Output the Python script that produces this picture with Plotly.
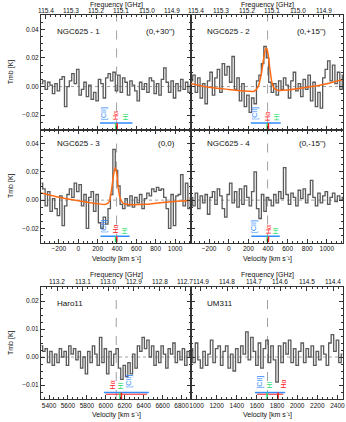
import numpy as np
import plotly.graph_objects as go

C_KMS = 299792.458

# ---------------- velocity channel grids (km/s) ----------------
v_ngc = np.arange(-380, 1171, 25)
v_horo = np.arange(5320, 6896, 25)
v_um = np.arange(950, 2451, 25)

# ---------------- spectra, Tmb [K] ----------------
t_ngc1 = [0.002, 0.004, -0.002, 0.003, 0.001, -0.005, 0.002, -0.003, 0.005, 0.007,
          -0.014, 0.000, 0.004, 0.009, 0.002, 0.012, -0.006, -0.002, 0.003, -0.007,
          0.001, -0.009, -0.004, -0.010, 0.005, 0.002, -0.008, 0.006, 0.009, 0.004,
          0.010, -0.003, 0.008, -0.004, 0.006, 0.003, -0.006, 0.004, 0.001, -0.003,
          -0.010, 0.003, -0.002, 0.002, -0.004, 0.006, 0.004, -0.005, 0.002, -0.006,
          0.005, 0.013, 0.003, -0.004, 0.004, -0.008, 0.002, -0.003, 0.005, -0.002,
          0.003, -0.004, 0.001]
t_ngc2 = [0.004, 0.008, -0.004, 0.006, -0.008, 0.002, -0.012, 0.004, 0.010, -0.006,
          0.006, 0.012, -0.004, 0.016, 0.008, 0.014, 0.003, 0.021, -0.002, 0.006,
          -0.010, 0.002, -0.014, -0.006, -0.018, -0.008, -0.012, 0.004, 0.008, 0.016,
          0.028, 0.020, 0.003, -0.004, 0.002, -0.006, 0.004, -0.002, 0.006, 0.001,
          -0.008, 0.004, 0.010, -0.003, 0.002, -0.007, 0.005, -0.002, 0.008, -0.010,
          0.003, -0.014, -0.004, -0.015, 0.006, 0.012, 0.018, 0.004, 0.015, 0.002,
          0.010, -0.002, 0.008]
t_ngc3 = [0.012, 0.008, -0.004, 0.006, -0.008, 0.001, -0.006, -0.011, 0.003, -0.018,
          -0.004, 0.004, 0.008, 0.002, 0.012, 0.006, 0.011, -0.004, 0.004, -0.020,
          0.002, 0.006, -0.008, 0.004, -0.016, -0.020, -0.012, -0.017, -0.006, 0.004,
          0.036, 0.021, 0.010, -0.003, -0.006, 0.001, -0.004, 0.003, -0.005, 0.002,
          -0.002, 0.004, -0.006, 0.001, 0.005, 0.003, 0.008, 0.006, 0.009, 0.007,
          0.008, 0.002, -0.006, -0.020, 0.004, -0.018, 0.003, 0.004, 0.018, -0.004,
          0.012, -0.006, 0.002]
t_ngc4 = [0.002, -0.004, 0.005, -0.006, 0.003, -0.002, 0.004, -0.010, 0.002, 0.006,
          -0.003, 0.008, 0.003, -0.006, -0.012, 0.004, 0.012, -0.002, 0.006, -0.005,
          0.008, -0.003, 0.010, 0.002, -0.004, 0.006, 0.020, -0.006, -0.013, 0.004,
          -0.008, 0.002, 0.000, -0.004, 0.004, -0.002, 0.006, 0.001, 0.023, 0.004,
          -0.003, 0.005, 0.002, -0.004, 0.007, 0.001, 0.008, -0.002, 0.004, 0.014,
          0.002, -0.004, 0.005, -0.002, 0.003, 0.006, -0.003, 0.002, 0.005, -0.001,
          0.003, 0.000, 0.002]
t_horo = [0.004, 0.002, 0.003, -0.002, 0.002, -0.003, 0.001, -0.002, 0.003, 0.000,
          0.002, -0.003, 0.004, 0.001, 0.003, -0.001, 0.002, -0.004, 0.000, -0.006,
          0.002, -0.002, 0.004, 0.001, -0.003, 0.007, -0.002, 0.003, -0.006, 0.002,
          -0.003, 0.001, 0.003, -0.004, -0.008, -0.003, -0.007, -0.002, -0.006, 0.001,
          -0.004, 0.004, 0.002, 0.007, 0.003, 0.006, 0.000, 0.004, -0.003, 0.002,
          -0.002, 0.004, 0.001, -0.004, 0.003, 0.001, 0.005, -0.002, 0.002, -0.001,
          0.003, -0.003, 0.002, 0.000]
t_um = [0.003, -0.002, 0.005, -0.001, -0.004, 0.002, -0.003, 0.001, 0.006, -0.002,
        0.003, 0.004, -0.003, 0.002, 0.004, -0.004, 0.001, -0.005, 0.003, -0.002,
        0.004, 0.001, 0.009, -0.001, 0.007, 0.002, -0.003, 0.005, -0.004, 0.003,
        0.006, -0.002, 0.004, -0.001, -0.009, 0.004, -0.002, 0.005, 0.001, 0.006,
        -0.002, 0.003, -0.003, 0.002, 0.005, -0.002, 0.003, 0.000, 0.004, -0.003,
        0.002, -0.001, 0.004, 0.001, -0.003, 0.005, 0.008, 0.002, 0.006, -0.002,
        0.001]

# ---------------- Gaussian + baseline fits ----------------
fit2_v = [-385, -200, 0, 100, 200, 260, 300, 330, 350, 370, 385, 400, 420, 440, 460, 500, 600, 800, 1000, 1165]
fit2_t = [0.002, -0.0005, -0.002, -0.0027, -0.0032, -0.0033, 0.0, 0.008, 0.017, 0.025, 0.027, 0.023, 0.012,
          0.003, -0.001, -0.0026, -0.0024, -0.0005, 0.002, 0.005]
fit3_v = [-385, -200, 0, 100, 200, 280, 320, 345, 365, 380, 395, 410, 430, 460, 500, 700, 900, 1165]
fit3_t = [0.005, 0.002, -0.0005, -0.0015, -0.0025, -0.003, -0.001, 0.008, 0.018, 0.023, 0.020, 0.010,
          0.002, -0.002, -0.003, -0.003, -0.0015, 0.0]

# ---------------- panel descriptors ----------------
panel_names = ["NGC625 - 1", "NGC625 - 2", "NGC625 - 3", "NGC625 - 4", "Haro11", "UM311"]
panel_offsets = ["(0,+30'')", "(0,+15'')", "(0,0)", "(0,-15'')", "", ""]
vsys = [396, 396, 396, 396, 6110, 1705]
x_ranges = [[-385, 1165]] * 4 + [[5315, 6900], [945, 2455]]
rest_freq = [115.271, 115.271, 115.271, 115.271, 115.271, 115.30]
freq_ngc = [115.4, 115.3, 115.2, 115.1, 115.0, 114.9]
freq_horo = [113.2, 113.1, 113.0, 112.9, 112.8, 112.7]
freq_um = [114.9, 114.8, 114.7, 114.6, 114.5, 114.4]

# tracer markers: velocities (km/s) and heights (K)
cii_v = [265, 265, 270, 265, 6245, 1630]
ha_v = [392, 400, 385, 400, 6065, 1860]
hi_v = [485, 485, 480, 480, 6160, 1730]
bar_lo = [225, 225, 230, 230, 5980, 1580]
bar_hi = [560, 530, 530, 520, 6455, 1880]
tick_red_v = [402, 405, 398, 405, 6165, 1810]
tick_grn_v = [388, 392, 385, 392, 6150, 1700]
cii_y = [-0.0185, -0.0185, -0.0185, -0.0185, -0.0088, -0.0088]
ha_y = [-0.0205, -0.0205, -0.0205, -0.0205, -0.0098, -0.0098]
hi_y = [-0.0215, -0.0215, -0.0215, -0.0215, -0.0102, -0.0102]
bar_y = [-0.0255, -0.0255, -0.0255, -0.0255, -0.0127, -0.0127]

spectra = [(v_ngc, t_ngc1), (v_ngc, t_ngc2), (v_ngc, t_ngc3), (v_ngc, t_ngc4),
           (v_horo, t_horo), (v_um, t_um)]
fits = {1: (fit2_v, fit2_t), 2: (fit3_v, fit3_t)}
top_freqs = {0: freq_ngc, 1: freq_ngc, 4: freq_horo, 5: freq_um}

# ---------------- geometry ----------------
W, H = 346, 422
def px_x(p): return p / W
def px_y(p): return 1 - p / H

col_px = [(41, 191), (191, 343)]
row_px = [(15, 129.5), (129.5, 242.5), (287, 399)]
top_label_px = {0: 11, 2: 281.5}
y_ranges = [[-0.03, 0.05], [-0.03, 0.05], [-0.015, 0.025]]
y_dtick = [0.02, 0.02, 0.01]
y_minor = [0.005, 0.005, 0.0025]

AXC = '#333333'
FONT = 'Liberation Sans, Arial, sans-serif'
C_BLUE, C_RED, C_GRN = '#2f8cff', '#ff2020', '#2fe070'
C_ORANGE = '#ff6a13'
C_SPEC = '#5a5a5a'
TF = 6.5

fig = go.Figure()
layout = dict(width=W, height=H, margin=dict(l=0, r=0, t=0, b=0, autoexpand=False),
              paper_bgcolor='white', plot_bgcolor='white', showlegend=False,
              font=dict(family=FONT, size=7, color='#111'))
shapes, annotations = [], []

top_id = {0: 7, 1: 8, 4: 9, 5: 10}

for i in range(6):
    row, col = i // 2, i % 2
    n = '' if i == 0 else str(i + 1)
    xref, yref = 'x' + n, 'y' + n
    xd = [px_x(col_px[col][0]), px_x(col_px[col][1])]
    yd = [px_y(row_px[row][1]), px_y(row_px[row][0])]
    xr = x_ranges[i]
    has_top = i in top_freqs

    layout['xaxis' + n] = dict(
        domain=xd, range=xr, anchor=yref, showgrid=False, zeroline=False,
        showline=True, linecolor=AXC, linewidth=1,
        mirror=(False if has_top else 'ticks'),
        ticks='inside', ticklen=4, tickcolor=AXC, tickwidth=1,
        dtick=200, tick0=0,
        minor=dict(ticks='inside', ticklen=2, dtick=50, tickcolor=AXC),
        showticklabels=(row >= 1), tickfont=dict(size=TF, color='#111'))
    layout['yaxis' + n] = dict(
        domain=yd, range=y_ranges[row], anchor=xref, showgrid=False, zeroline=False,
        showline=True, linecolor=AXC, linewidth=1, mirror='ticks',
        ticks='inside', ticklen=4, tickcolor=AXC, tickwidth=1,
        dtick=y_dtick[row], tick0=0, tickformat='.2f',
        minor=dict(ticks='inside', ticklen=2, dtick=y_minor[row], tickcolor=AXC),
        showticklabels=(col == 0), tickfont=dict(size=TF, color='#111'))

    if has_top:
        tid = top_id[i]
        f0 = rest_freq[i]
        freqs = top_freqs[i]
        tv = [C_KMS * (f0 / f - 1) for f in freqs]
        fmin = f0 / (1 + xr[1] / C_KMS)
        fmax = f0 / (1 + xr[0] / C_KMS)
        mf = np.arange(np.ceil(fmin / 0.02) * 0.02, fmax, 0.02)
        mv = [C_KMS * (f0 / f - 1) for f in mf]
        layout['xaxis%d' % tid] = dict(
            overlaying=xref, side='top', anchor=yref, range=xr,
            showgrid=False, zeroline=False, showline=True, linecolor=AXC, linewidth=1,
            ticks='inside', ticklen=4, tickcolor=AXC, tickwidth=1,
            tickmode='array', tickvals=tv, showticklabels=False,
            minor=dict(ticks='inside', ticklen=2, tickmode='array', tickvals=mv, tickcolor=AXC))
        fig.add_trace(go.Scatter(x=xr, y=[0, 0], xaxis='x%d' % tid, yaxis=yref, mode='lines',
                                 line=dict(width=0), opacity=0, hoverinfo='skip'))
        # frequency tick labels, placed tight to the axis like the original
        for f, v in zip(freqs, tv):
            annotations.append(dict(text='%.1f' % f, x=v, y=px_y(top_label_px[row]), xref=xref,
                                    yref='paper', showarrow=False, xanchor='center', yanchor='middle',
                                    font=dict(size=TF, color='#111', family=FONT)))

    # reference lines
    shapes.append(dict(type='line', xref=xref, yref=yref + ' domain', x0=vsys[i], x1=vsys[i],
                       y0=0, y1=1, line=dict(color='#a0a0a0', width=1, dash='dash'), layer='below'))
    shapes.append(dict(type='line', xref=xref + ' domain', yref=yref, x0=0, x1=1, y0=0, y1=0,
                       line=dict(color='#a0a0a0', width=1, dash='dot'), layer='below'))

    # spectrum
    vv, tt = spectra[i]
    m = min(len(vv), len(tt))
    fig.add_trace(go.Scatter(x=list(vv[:m]), y=tt[:m], xaxis=xref, yaxis=yref, mode='lines',
                             line=dict(color=C_SPEC, width=1.3, shape='hvh'), hoverinfo='skip'))
    if i in fits:
        fv, ft = fits[i]
        fig.add_trace(go.Scatter(x=fv, y=ft, xaxis=xref, yaxis=yref, mode='lines',
                                 line=dict(color=C_ORANGE, width=1.5, shape='spline', smoothing=0.6),
                                 hoverinfo='skip'))

    # tracer markers
    ybot = y_ranges[row][0]
    fig.add_trace(go.Scatter(x=[bar_lo[i], bar_hi[i]], y=[bar_y[i], bar_y[i]], xaxis=xref, yaxis=yref,
                             mode='lines', line=dict(color=C_BLUE, width=1.5), hoverinfo='skip'))
    if row == 2:
        fig.add_trace(go.Scatter(x=[bar_lo[i] + 20, bar_hi[i] - 20], y=[bar_y[i] - 0.0006] * 2,
                                 xaxis=xref, yaxis=yref, mode='lines',
                                 line=dict(color=C_RED, width=1), hoverinfo='skip'))
    fig.add_trace(go.Scatter(x=[tick_grn_v[i], tick_grn_v[i]], y=[bar_y[i], ybot], xaxis=xref, yaxis=yref,
                             mode='lines', line=dict(color=C_GRN, width=1.5), hoverinfo='skip'))
    fig.add_trace(go.Scatter(x=[tick_red_v[i], tick_red_v[i]], y=[bar_y[i], ybot], xaxis=xref, yaxis=yref,
                             mode='lines', line=dict(color=C_RED, width=1.5), hoverinfo='skip'))
    for txt, xv, yv, cc in (("[CII]", cii_v[i], cii_y[i], C_BLUE),
                            ("Hα", ha_v[i], ha_y[i], C_RED),
                            ("HI", hi_v[i], hi_y[i], C_GRN)):
        annotations.append(dict(text=txt, x=xv, y=yv, xref=xref, yref=yref, showarrow=False,
                                textangle=-90, font=dict(size=7, color=cc, family=FONT)))

    # panel labels
    lab_y = {0: 31, 1: 143.5, 2: 303}[row]
    lab_x = 55 if col == 0 else 205
    annotations.append(dict(text=panel_names[i], x=px_x(lab_x), y=px_y(lab_y), xref='paper', yref='paper',
                            xanchor='left', yanchor='middle', showarrow=False,
                            font=dict(size=8, color='#111', family=FONT)))
    if panel_offsets[i]:
        rx = 177 if col == 0 else 328
        annotations.append(dict(text=panel_offsets[i], x=px_x(rx), y=px_y(lab_y), xref='paper', yref='paper',
                                xanchor='right', yanchor='middle', showarrow=False,
                                font=dict(size=8, color='#111', family=FONT)))

# axis titles as annotations
for col in range(2):
    cx = px_x((col_px[col][0] + col_px[col][1]) / 2)
    for yy, txt in ((4.5, "Frequency [GHz]"), (274.5, "Frequency [GHz]"),
                    (258.5, "Velocity [km s⁻¹]"), (415, "Velocity [km s⁻¹]")):
        annotations.append(dict(text=txt, x=cx, y=px_y(yy), xref='paper', yref='paper',
                                xanchor='center', yanchor='middle', showarrow=False,
                                font=dict(size=7, color='#111', family=FONT)))
for row in range(3):
    cy = px_y((row_px[row][0] + row_px[row][1]) / 2)
    annotations.append(dict(text="Tmb [K]", x=px_x(11), y=cy, xref='paper', yref='paper',
                            textangle=-90, showarrow=False, xanchor='center', yanchor='middle',
                            font=dict(size=7, color='#111', family=FONT)))

layout['shapes'] = shapes
layout['annotations'] = annotations
fig.update_layout(**layout)
fig.write_html("out.html", config={'displayModeBar': False},
               post_script="document.body.style.margin='0px';document.body.style.padding='0px';")
